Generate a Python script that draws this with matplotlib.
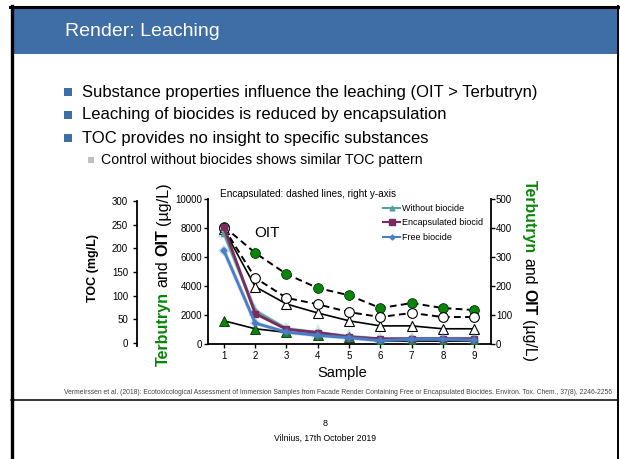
import matplotlib
matplotlib.use('Agg')
import matplotlib.pyplot as plt
from matplotlib.patches import Rectangle
from matplotlib.lines import Line2D
from matplotlib.transforms import IdentityTransform
import matplotlib.patheffects as pe

plt.rcParams['font.family'] = ['Liberation Sans', 'DejaVu Sans']

W, H = 620, 459

# ---------------- data ----------------
samples = [1, 2, 3, 4, 5, 6, 7, 8, 9]
# free biocide, left axis (µg/L), solid black lines
oit_free = [7900, 3950, 2760, 2140, 1600, 1250, 1250, 1050, 1050]
terb_free = [1600, 1050, 800, 650, 500, 200, 200, 200, 200]
# encapsulated biocide, right axis (µg/L), dashed lines
terb_enc = [405, 314, 241, 193, 168, 124, 141, 124, 117]
oit_enc = [400, 228, 159, 137, 110, 93, 107, 93, 93]
# TOC (mg/L)
toc_without = [232, 68, 30, 22, 14, 8, 9, 9, 9]
toc_encaps = [244, 62, 29, 22, 13, 9, 9, 9, 9]
toc_free = [195, 42, 23, 16, 11, 5, 8, 8, 6]

left_ticks = [0, 2000, 4000, 6000, 8000, 10000]
right_ticks = [0, 100, 200, 300, 400, 500]
toc_ticks = [0, 50, 100, 150, 200, 250, 300]
legend_labels = ["Without biocide", "Encapsulated biocid", "Free biocide"]

title = "Render: Leaching"
bullets = ["Substance properties influence the leaching (OIT > Terbutryn)",
           "Leaching of biocides is reduced by encapsulation",
           "TOC provides no insight to specific substances"]
sub_bullet = "Control without biocides shows similar TOC pattern"
citation = ("Vermeirssen et al. (2018): Ecotoxicological Assessment of Immersion Samples from "
            "Facade Render Containing Free or Encapsulated Biocides. Environ. Tox. Chem., 37(8), 2246-2256")
page_no = "8"
footer = "Vilnius, 17th October 2019"

BLUE_HDR = '#3F6DA5'
GREEN = '#0A840A'
TEAL = '#5B9EA0'
PURPLE = '#7C2B5E'
LBLUE = '#4A7EC4'

fig = plt.figure(figsize=(6.2, 4.59), dpi=100)
ID = IdentityTransform()


def Y(y):  # top-origin pixel -> display
    return H - y


# ---------------- slide frame ----------------
fig.add_artist(Rectangle((12, Y(54)), 605, 46, facecolor=BLUE_HDR, edgecolor='none', transform=ID))
fig.add_artist(Line2D([10, 620], [Y(7), Y(7)], color='black', lw=2.2, transform=ID))
fig.add_artist(Line2D([11.5, 11.5], [0, Y(6)], color='black', lw=2.4, transform=ID))
fig.add_artist(Line2D([618, 618], [0, Y(6)], color='black', lw=1.4, transform=ID))
fig.add_artist(Line2D([11, 618], [Y(400), Y(400)], color='black', lw=1.1, transform=ID))

fig.text(65, Y(31), title, color='white', fontsize=14, va='center', ha='left', transform=ID)

by = [92, 115, 138]
for yy, s in zip(by, bullets):
    fig.add_artist(Rectangle((64, Y(yy) - 4), 8, 8, facecolor=BLUE_HDR, edgecolor='none', transform=ID))
    fig.text(82, Y(yy), s, fontsize=12, va='center', ha='left', color='black', transform=ID)
fig.add_artist(Rectangle((88, Y(160) - 3), 6, 6, facecolor='#BFBFBF', edgecolor='none', transform=ID))
fig.text(101, Y(160), sub_bullet, fontsize=10.2, va='center', ha='left', color='black', transform=ID)

fig.text(612, Y(393), citation, fontsize=4.9, va='center', ha='right', color='#444444', transform=ID)
fig.text(325, Y(423), page_no, fontsize=6.5, va='center', ha='center', color='black', transform=ID)
fig.text(325, Y(438), footer, fontsize=6.2, va='center', ha='center', color='black', transform=ID)

# ---------------- chart ----------------
ax = fig.add_axes([208 / W, (H - 344) / H, (491 - 208) / W, (344 - 199) / H])
ax.patch.set_alpha(0)
ax.set_xlim(0.49, 9.54)
ax.set_ylim(0, 10000)
for sp in ['top', 'right']:
    ax.spines[sp].set_visible(False)
for sp in ['left', 'bottom']:
    ax.spines[sp].set_linewidth(1.3)
ax.set_xticks(samples)
ax.set_yticks(left_ticks)
ax.tick_params(axis='both', labelsize=7, length=3, width=1, direction='out')
ax.tick_params(axis='y', pad=1)
ax.tick_params(axis='x', pad=2)

ax.plot(samples, oit_free, color='black', lw=1.2, marker='^', ms=7, mfc='white', mec='black', mew=0.8, zorder=3)
ax.plot(samples, terb_free, color='black', lw=1.2, marker='^', ms=7, mfc=GREEN, mec='#003300', mew=0.6, zorder=3)
ax.text(2.38, 7650, 'OIT', fontsize=11, ha='center', va='center')

ax_r = ax.twinx()
ax_r.set_ylim(0, 500)
for sp in ['top', 'left', 'bottom']:
    ax_r.spines[sp].set_visible(False)
ax_r.spines['right'].set_linewidth(1.3)
ax_r.set_yticks(right_ticks)
ax_r.tick_params(axis='y', labelsize=7, length=3, width=1, direction='out', pad=0.5)
ax_r.plot(samples, terb_enc, color='black', lw=1.4, ls=(0, (3.5, 2.2)), marker='o', ms=7,
          mfc=GREEN, mec='#003300', mew=0.6, zorder=3)
ax_r.plot(samples, oit_enc, color='black', lw=1.4, ls=(0, (3.5, 2.2)), marker='o', ms=7,
          mfc='white', mec='black', mew=0.8, zorder=3)

ax_t = ax.twinx()
px_per = 146 / 300.0
ax_t.set_ylim(-1 / px_per, 300 + 2 / px_per)
for sp in ['top', 'right', 'bottom']:
    ax_t.spines[sp].set_visible(False)
ax_t.spines['left'].set_visible(True)
ax_t.spines['left'].set_position(('outward', (208 - 137) * 0.72))
ax_t.spines['left'].set_bounds(-6, 300)
ax_t.spines['left'].set_linewidth(1.3)
ax_t.yaxis.set_ticks_position('left')
ax_t.yaxis.set_label_position('left')
ax_t.set_yticks(toc_ticks)
ax_t.tick_params(axis='y', labelsize=7, length=3, width=1, direction='out', pad=3.5)


def glow(c):
    return [pe.Stroke(linewidth=3.0, foreground=c, alpha=0.25), pe.Normal()]


ax_t.plot(samples, toc_without, color=TEAL, lw=2, marker='^', ms=4.5, mfc=TEAL, mec=TEAL,
          path_effects=glow(TEAL), zorder=4)
ax_t.plot(samples, toc_encaps, color=PURPLE, lw=2, marker='s', ms=5, mfc=PURPLE, mec=PURPLE, zorder=4)
ax_t.plot(samples, toc_free, color=LBLUE, lw=2, marker='D', ms=3, mfc=LBLUE, mec=LBLUE,
          path_effects=glow(LBLUE), zorder=4)

h1 = Line2D([], [], color=TEAL, lw=1.5, marker='^', ms=3.5)
h2 = Line2D([], [], color=PURPLE, lw=1.5, marker='s', ms=4)
h3 = Line2D([], [], color=LBLUE, lw=1.5, marker='D', ms=2.5)
ax_t.legend([h1, h2, h3], legend_labels, fontsize=6.5, frameon=False, loc='upper left',
            bbox_to_anchor=(383, Y(204)), bbox_transform=ID, borderpad=0, borderaxespad=0,
            handlelength=1.9, handletextpad=0.2, labelspacing=0.6)

fig.text(220, Y(194), "Encapsulated: dashed lines, right y-axis", fontsize=7.2, ha='left', va='center',
         transform=ID)
fig.text(342, Y(373), "Sample", fontsize=10.5, ha='center', va='center', transform=ID)
fig.text(93, Y(268), "TOC (mg/L)", fontsize=9, fontweight='bold', rotation=90, ha='center', va='center',
         transform=ID)

# ---------------- multi-colour rotated labels ----------------
renderer = fig.canvas.get_renderer()


def measure(s, weight, size):
    t = fig.text(0, 0, s, fontsize=size, fontweight=weight, transform=ID)
    w = t.get_window_extent(renderer).width
    t.remove()
    return w


def rot_label(pieces, x_base, y_center, up, size):
    sp = measure("a a", 'normal', size) - measure("aa", 'normal', size)
    items = []
    total = 0
    for i, (s, c, w) in enumerate(pieces):
        wd = measure(s, w, size)
        items.append((s, c, w, wd))
        total += wd
        if i < len(pieces) - 1:
            total += sp
    pos = y_center - total / 2 if up else y_center + total / 2
    for s, c, w, wd in items:
        fig.text(x_base, pos, s, color=c, fontweight=w, fontsize=size,
                 rotation=90 if up else -90, rotation_mode='anchor',
                 ha='left', va='baseline', transform=ID)
        if up:
            pos += wd + sp
        else:
            pos -= wd + sp


pieces = [("Terbutryn", GREEN, 'bold'), ("and", 'black', 'normal'),
          ("OIT", 'black', 'bold'), ("(µg/L)", 'black', 'normal')]
rot_label(pieces, 167.5, Y(274), True, 11.6)
rot_label(pieces, 524.5, Y(271), False, 11.4)

fig.savefig('out.png', dpi=100)
